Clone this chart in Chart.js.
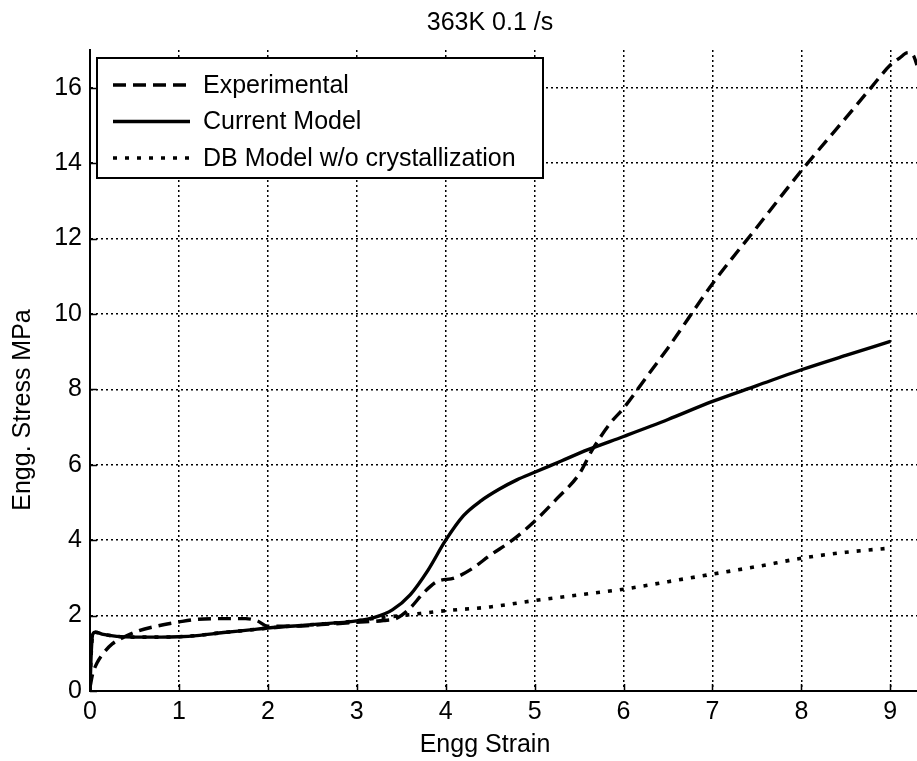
<!DOCTYPE html>
<html>
<head>
<meta charset="utf-8">
<script src="https://cdn.jsdelivr.net/npm/chart.js@4/dist/chart.umd.min.js"></script>
<style>
  html, body { margin: 0; padding: 0; background: #fff; }
  #wrap { width: 917px; height: 761px; position: relative; }
</style>
</head>
<body>
<div id="wrap"><canvas id="c" width="917" height="761"></canvas></div>
<script>
// Stress-strain curves at 363K, 0.1 /s
const chartTitle = '363K 0.1 /s';
const xAxisTitle = 'Engg Strain';
const yAxisTitle = 'Engg. Stress MPa';
const seriesNames = ['Experimental', 'Current Model', 'DB Model w/o crystallization'];

const xTicks = [0, 1, 2, 3, 4, 5, 6, 7, 8, 9];
const yTicks = [0, 2, 4, 6, 8, 10, 12, 14, 16];

const expStrain = [0, 0.03, 0.08, 0.15, 0.25, 0.4, 0.55, 0.75, 1.0, 1.2, 1.5, 1.75, 1.88, 2.0, 2.3, 2.6, 3.0, 3.3, 3.45,
  3.6, 3.75, 3.9, 4.1, 4.3, 4.5, 4.75, 5.0, 5.25, 5.5, 5.65, 5.85, 6.0, 6.25, 6.5, 7.0, 7.5, 8.0, 8.5, 8.8, 9.0, 9.1, 9.2, 9.26, 9.3];
const expStress = [0.1, 0.45, 0.75, 1.0, 1.25, 1.45, 1.6, 1.72, 1.83, 1.9, 1.92, 1.92, 1.86, 1.72, 1.72, 1.76, 1.82, 1.87, 1.93,
  2.2, 2.6, 2.9, 3.0, 3.25, 3.6, 4.0, 4.5, 5.1, 5.75, 6.4, 7.1, 7.5, 8.3, 9.1, 10.8, 12.3, 13.8, 15.2, 16.05, 16.6, 16.78, 16.93, 16.85, 16.6];

const modelStrain = [0, 0.01, 0.03, 0.06, 0.15, 0.3, 0.5, 0.8, 1.0, 1.2, 1.5, 1.8, 2.0, 2.5, 3.0, 3.2, 3.4, 3.6, 3.8,
  4.0, 4.2, 4.4, 4.6, 4.8, 5.0, 5.3, 5.6, 6.0, 6.5, 7.0, 7.5, 8.0, 8.5, 9.0];
const modelStress = [0, 0.8, 1.5, 1.56, 1.5, 1.45, 1.43, 1.43, 1.44, 1.47, 1.55, 1.62, 1.67, 1.76, 1.86, 1.95, 2.15, 2.55, 3.2,
  4.0, 4.65, 5.05, 5.35, 5.6, 5.8, 6.1, 6.4, 6.75, 7.2, 7.68, 8.1, 8.52, 8.9, 9.27];

const dbStrain = [0, 0.01, 0.03, 0.06, 0.15, 0.3, 0.5, 0.8, 1.0, 1.2, 1.5, 1.8, 2.0, 2.5, 3.0, 3.2, 3.5, 4.0, 4.5,
  5.0, 5.5, 6.0, 6.5, 7.0, 7.5, 8.0, 8.5, 9.0];
const dbStress = [0, 0.8, 1.5, 1.56, 1.5, 1.45, 1.43, 1.43, 1.44, 1.47, 1.55, 1.62, 1.67, 1.76, 1.86, 1.93, 2.0, 2.13, 2.23,
  2.4, 2.55, 2.7, 2.9, 3.1, 3.3, 3.52, 3.68, 3.79];

const FONT = '"Liberation Sans", Arial, Helvetica, sans-serif';
const pts = (xs, ys) => xs.map((x, i) => ({ x: x, y: ys[i] }));

const lineStyles = [
  { dash: [13, 7], width: 3.4 },
  { dash: [], width: 3.4 },
  { dash: [4, 8], width: 3.6 }
];

// Title, axis titles, inward ticks and boxed legend
const decorations = {
  id: 'decorations',
  afterDraw(chart) {
    const ctx = chart.ctx;
    const area = chart.chartArea;
    const xs = chart.scales.x, ys = chart.scales.y;
    ctx.save();
    ctx.fillStyle = '#000';
    ctx.strokeStyle = '#000';

    // inward tick marks
    ctx.lineWidth = 1.5;
    ctx.setLineDash([]);
    ctx.beginPath();
    xTicks.forEach(v => {
      const px = Math.round(xs.getPixelForValue(v)) + 0.5;
      ctx.moveTo(px, area.bottom);
      ctx.lineTo(px, area.bottom - 7);
    });
    yTicks.forEach(v => {
      const py = Math.round(ys.getPixelForValue(v)) + 0.5;
      ctx.moveTo(area.left, py);
      ctx.lineTo(area.left + 7, py);
    });
    ctx.stroke();

    // title
    ctx.font = '25px ' + FONT;
    ctx.textAlign = 'center';
    ctx.textBaseline = 'middle';
    ctx.fillText(chartTitle, 490, 23);

    // axis titles
    ctx.fillText(xAxisTitle, 485, 745);
    ctx.save();
    ctx.translate(23, 410);
    ctx.rotate(-Math.PI / 2);
    ctx.fillText(yAxisTitle, 0, 0);
    ctx.restore();

    // legend
    const lx = 97, ly = 58, lw = 446, lh = 120;
    ctx.fillStyle = '#fff';
    ctx.fillRect(lx, ly, lw, lh);
    ctx.lineWidth = 2;
    ctx.strokeRect(lx, ly, lw, lh);
    ctx.fillStyle = '#000';
    ctx.textAlign = 'left';
    const rowY = [85, 121.5, 158];
    seriesNames.forEach((name, i) => {
      const st = lineStyles[i];
      ctx.lineWidth = st.width;
      ctx.setLineDash(st.dash);
      ctx.beginPath();
      ctx.moveTo(113, rowY[i]);
      ctx.lineTo(190, rowY[i]);
      ctx.stroke();
      ctx.setLineDash([]);
      ctx.fillText(name, 203, rowY[i] + 1);
    });
    ctx.restore();
  }
};

new Chart(document.getElementById('c'), {
  type: 'line',
  data: {
    datasets: [
      { label: seriesNames[0], data: pts(expStrain, expStress) },
      { label: seriesNames[1], data: pts(modelStrain, modelStress) },
      { label: seriesNames[2], data: pts(dbStrain, dbStress) }
    ].map((d, i) => Object.assign(d, {
      borderColor: '#000',
      backgroundColor: '#000',
      borderWidth: lineStyles[i].width,
      borderDash: lineStyles[i].dash,
      pointRadius: 0,
      fill: false,
      cubicInterpolationMode: 'monotone',
      borderCapStyle: 'butt'
    }))
  },
  options: {
    responsive: false,
    animation: false,
    devicePixelRatio: 1,
    layout: { padding: { top: 50, right: 0, left: 0, bottom: 0 } },
    plugins: { legend: { display: false }, tooltip: { enabled: false }, title: { display: false } },
    scales: {
      x: {
        type: 'linear',
        min: 0,
        max: 9.3,
        afterBuildTicks: s => { s.ticks = xTicks.map(v => ({ value: v })); },
        afterFit: s => { s.height = 70; },
        ticks: { color: '#000', font: { family: FONT, size: 25 }, padding: 6, maxRotation: 0 },
        grid: { color: '#000', lineWidth: 1.5, drawTicks: false },
        border: { display: true, color: '#000', width: 2, dash: [2, 3] }
      },
      y: {
        type: 'linear',
        min: 0,
        max: 17,
        afterBuildTicks: s => { s.ticks = yTicks.map(v => ({ value: v })); },
        afterFit: s => { s.width = 90; },
        ticks: { color: '#000', font: { family: FONT, size: 25 }, padding: 8 },
        grid: { color: '#000', lineWidth: 1.5, drawTicks: false },
        border: { display: true, color: '#000', width: 2, dash: [2, 3] }
      }
    }
  },
  plugins: [decorations]
});
</script>
</body>
</html>
